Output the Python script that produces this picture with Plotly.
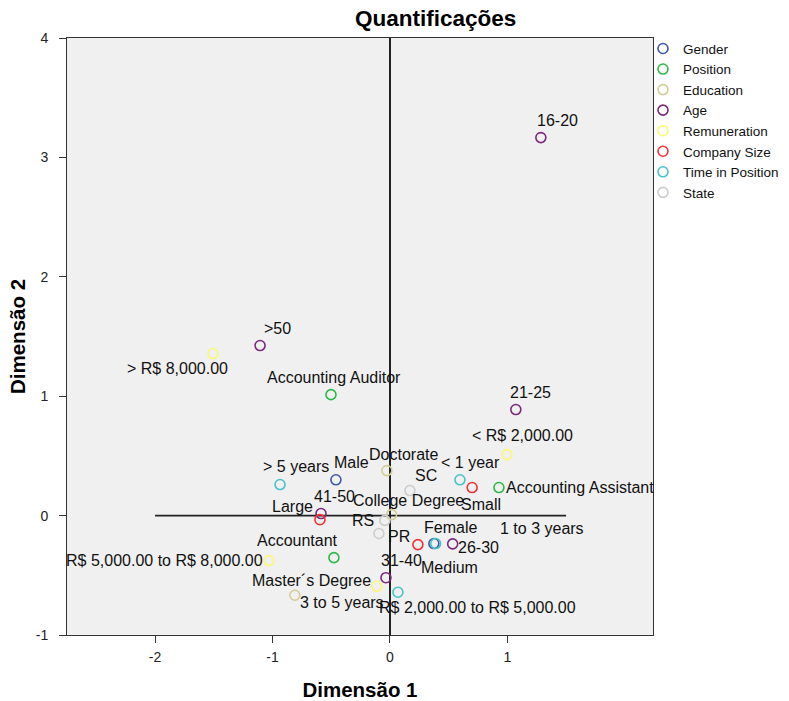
import plotly.graph_objects as go

# ---- data ----
groups = ["Gender", "Position", "Education", "Age", "Remuneration",
          "Company Size", "Time in Position", "State"]
colors = ["#3E58AC", "#2EB848", "#D3CE97", "#7C287D", "#FBF873",
          "#EF3338", "#48C2C5", "#CCCCCC"]

gender_labels = ["Male", "Female"]
gender_x = [-0.46, 0.374]
gender_y = [0.30, -0.234]

position_labels = ["Accounting Auditor", "Accounting Assistant", "Accountant"]
position_x = [-0.502, 0.928, -0.477]
position_y = [1.013, 0.235, -0.352]

education_labels = ["Doctorate", "College Degree", "Master´s Degree"]
education_x = [-0.026, 0.014, -0.81]
education_y = [0.377, 0.008, -0.667]

age_labels = ["16-20", "21-25", "26-30", "31-40", "41-50", ">50"]
age_x = [1.285, 1.072, 0.534, -0.034, -0.587, -1.106]
age_y = [3.166, 0.888, -0.237, -0.52, 0.017, 1.424]

remuneration_labels = ["< R$ 2,000.00", "R$ 2,000.00 to R$ 5,000.00",
                       "R$ 5,000.00 to R$ 8,000.00", "> R$ 8,000.00"]
remuneration_x = [0.996, -0.113, -1.03, -1.506]
remuneration_y = [0.511, -0.592, -0.377, 1.357]

company_labels = ["Small", "Medium", "Large"]
company_x = [0.70, 0.238, -0.596]
company_y = [0.235, -0.243, -0.034]

time_labels = ["< 1 year", "1 to 3 years", "3 to 5 years", "> 5 years"]
time_x = [0.596, 0.389, 0.068, -0.936]
time_y = [0.30, -0.234, -0.642, 0.26]

state_labels = ["SC", "RS", "PR"]
state_x = [0.17, -0.043, -0.094]
state_y = [0.21, -0.04, -0.15]

x_ticks = [-2, -1, 0, 1]
x_tick_text = ["-2", "-1", "0", "1"]
y_ticks = [-1, 0, 1, 2, 3, 4]
y_tick_text = ["-1", "0", "1", "2", "3", "4"]
ref_line_x = [-2, 1.5]   # extent of the horizontal reference line at y=0

series = [
    (gender_labels, gender_x, gender_y),
    (position_labels, position_x, position_y),
    (education_labels, education_x, education_y),
    (age_labels, age_x, age_y),
    (remuneration_labels, remuneration_x, remuneration_y),
    (company_labels, company_x, company_y),
    (time_labels, time_x, time_y),
    (state_labels, state_x, state_y),
]

# label placement offsets in pixels (dx, dy up)
label_offsets = {
    "16-20": (17, 17), ">50": (17, 17), "Accounting Auditor": (3, 17),
    "> R$ 8,000.00": (-36, -15), "21-25": (15, 17), "< R$ 2,000.00": (16, 19),
    "Doctorate": (17, 16), "Male": (16, 17), "> 5 years": (16, 18),
    "< 1 year": (11, 17), "SC": (16, 15), "Small": (9, -17),
    "Accounting Assistant": (81, 0), "41-50": (13, 17), "Large": (-27, 13),
    "College Degree": (17, 14), "RS": (-22, 0), "PR": (20, -3),
    "Medium": (32, -23), "Female": (17, 16), "1 to 3 years": (106, 15),
    "26-30": (26, -4), "Accountant": (-36, 17),
    "R$ 5,000.00 to R$ 8,000.00": (-104, 0), "31-40": (16, 17),
    "Master´s Degree": (17, 15), "3 to 5 years": (-56, -10),
    "R$ 2,000.00 to R$ 5,000.00": (101, -21),
}

FONT = "Liberation Sans, Arial, sans-serif"
W, H = 789, 701
ML, MT, MB = 67, 38, 66
PLOT_W = 586           # plot area width in px
PAPER_W = W - ML       # right margin is zero; plot width set via domain

fig = go.Figure()
annotations = []
for name, color, (labs, xs, ys) in zip(groups, colors, series):
    fig.add_trace(go.Scatter(
        x=xs, y=ys, mode="markers", name=name, text=labs,
        marker=dict(symbol="circle-open", size=10, color=color,
                    line=dict(width=1.6, color=color)),
        hovertemplate="%{text}<extra>" + name + "</extra>",
    ))
    for lab, xv, yv in zip(labs, xs, ys):
        dx, dy = label_offsets.get(lab, (16, 17))
        annotations.append(dict(
            x=xv, y=yv, xref="x", yref="y", text=lab, showarrow=False,
            xshift=dx, yshift=dy, xanchor="center", yanchor="middle",
            font=dict(family=FONT, size=16, color="#111111"),
        ))

annotations.append(dict(
    text="<b>Quantificações</b>", xref="paper", yref="paper",
    x=(435 - ML) / PAPER_W, y=1.0, yshift=20, xanchor="center",
    yanchor="middle", showarrow=False,
    font=dict(family=FONT, size=22.5, color="#000000"),
))

fig.add_shape(type="line", xref="x", yref="y",
              x0=ref_line_x[0], x1=ref_line_x[1], y0=0, y1=0,
              line=dict(color="#222222", width=1.6), layer="below")

fig.update_layout(
    width=W, height=H,
    margin=dict(l=ML, r=0, t=MT, b=MB, autoexpand=False),
    paper_bgcolor="#FFFFFF", plot_bgcolor="#F0F0F0",
    font=dict(family=FONT, size=15, color="#111111"),
    annotations=annotations,
    showlegend=True,
    legend=dict(x=(643 - ML) / PAPER_W, y=1.008, xanchor="left",
                yanchor="top", bgcolor="rgba(0,0,0,0)",
                font=dict(family=FONT, size=13.5), itemwidth=30,
                tracegroupgap=0),
    xaxis=dict(domain=[0, PLOT_W / PAPER_W], range=[-2.75, 2.24],
               tickvals=x_ticks, ticktext=x_tick_text, showgrid=False,
               automargin=False,
               zeroline=True, zerolinecolor="#222222", zerolinewidth=1.6,
               showline=True, linecolor="#333333", linewidth=1, mirror=True,
               ticks="outside", ticklen=7, tickcolor="#333333",
               ticklabelstandoff=2,
               tickfont=dict(family=FONT, size=14, color="#222222"),
               title=dict(text="<b>Dimensão 1</b>", standoff=18,
                          font=dict(family=FONT, size=20.5, color="#000000"))),
    yaxis=dict(range=[-1, 4], tickvals=y_ticks, ticktext=y_tick_text,
               showgrid=False, zeroline=False, automargin=False,
               showline=True, linecolor="#333333", linewidth=1, mirror=True,
               ticks="outside", ticklen=7, tickcolor="#333333",
               ticklabelstandoff=8,
               tickfont=dict(family=FONT, size=14, color="#222222"),
               title=dict(text="<b>Dimensão 2</b>", standoff=4,
                          font=dict(family=FONT, size=20.5, color="#000000"))),
)

fig.write_html("out.html",
               config={"displayModeBar": False},
               post_script="document.body.style.margin='0';"
                           "document.body.style.overflow='hidden';")
